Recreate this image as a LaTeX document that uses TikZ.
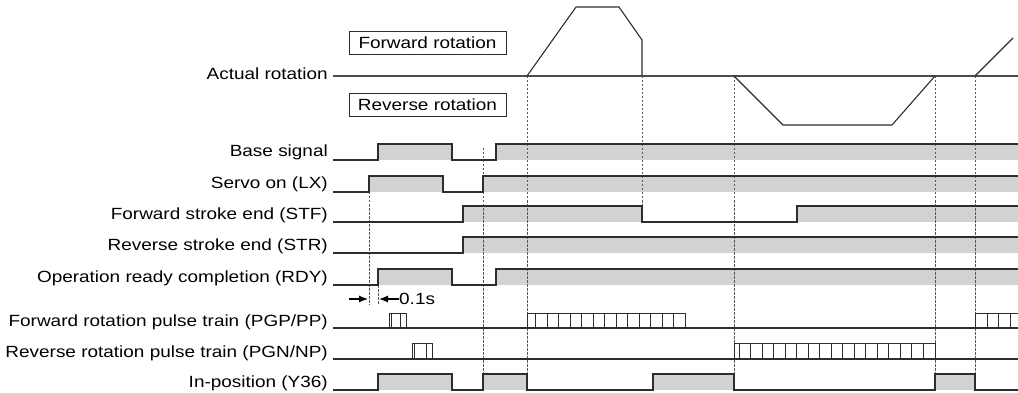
\documentclass[tikz,border=0pt]{standalone}
\usepackage{fontspec}
\setmainfont{Liberation Sans}[FakeStretch=1.17]
\usetikzlibrary{arrows.meta, positioning}
\definecolor{sigray}{RGB}{209,210,212}
\definecolor{inkdark}{RGB}{45,45,45}

\begin{document}
\begin{tikzpicture}[x=1pt, y=-1pt,
  lbl/.style={anchor=base east, inner sep=0pt, font=\fontsize{16.2}{19}\selectfont},
  rotbox/.style={draw=inkdark, line width=0.7pt, minimum width=157pt, minimum height=23pt, inner sep=0pt, font=\fontsize{16.2}{19}\selectfont},
  sig/.style={draw=inkdark, line width=1.1pt},
  hifill/.style={fill=sigray},
  curve/.style={draw=inkdark, line width=1.1pt},
  pulse/.style={draw=inkdark, line width=0.9pt},
  guide/.style={draw=black!65, line width=0.8pt, dash pattern=on 2.5pt off 1.5pt}
]
  \useasboundingbox (0,0) rectangle (1018,393);

  % signal names
  \node[lbl] (lact) at (328,80) {Actual rotation};
  \node[lbl] (lbase) at (328,157) {Base signal};
  \node[lbl] (lservo) at (328,189) {Servo on (LX)};
  \node[lbl] (lstf) at (328,219) {Forward stroke end (STF)};
  \node[lbl] (lstr) at (328,250) {Reverse stroke end (STR)};
  \node[lbl] (lrdy) at (328,282) {Operation ready completion (RDY)};
  \node[lbl] (lpgp) at (328,326) {Forward rotation pulse train (PGP/PP)};
  \node[lbl] (lpgn) at (328,357) {Reverse rotation pulse train (PGN/NP)};
  \node[lbl] (linp) at (328,387.5) {In-position (Y36)};

  \node[rotbox] (fwd) at (427.5,42.5) {Forward rotation};
  \node[rotbox] (rev) at (427.5,105) {Reverse rotation};

  % gray ON areas
  \fill[hifill] (378,144) rectangle (452,160);
  \fill[hifill] (496,144) rectangle (1018,160);
  \fill[hifill] (369,176) rectangle (443,192);
  \fill[hifill] (483,176) rectangle (1018,192);
  \fill[hifill] (463,206) rectangle (642,222);
  \fill[hifill] (797,206) rectangle (1018,222);
  \fill[hifill] (463,237) rectangle (1018,253);
  \fill[hifill] (378,269) rectangle (452,285);
  \fill[hifill] (496,269) rectangle (1018,285);
  \fill[hifill] (378,374) rectangle (452,390);
  \fill[hifill] (483,374) rectangle (527,390);
  \fill[hifill] (653,374) rectangle (734,390);
  \fill[hifill] (935,374) rectangle (975,390);

  % timing guides
  \draw[guide] (369,192) -- (369,305);
  \draw[guide] (378,285) -- (378,305);
  \draw[guide] (483,148) -- (483,374);
  \draw[guide] (642,76) -- (642,206);
  \foreach \x in {527,734,935,975}
    \draw[guide] (\x,76) -- (\x,390);

  % actual rotation
  \draw[sig, draw=black!70, line width=1.3pt] (333,76) -- (1018,76);
  \draw[curve] (527,76) -- (576,7) -- (619,7) -- (642,40) -- (642,76);
  \draw[curve] (734,76) -- (783,125) -- (892,125) -- (935,76);
  \draw[curve] (975,76) -- (1013,38);

  % signals
  \draw[sig] (333,160) -- (378,160) -- (378,144) -- (452,144) -- (452,160)
    -- (496,160) -- (496,144) -- (1018,144);
  \draw[sig] (333,192) -- (369,192) -- (369,176) -- (443,176) -- (443,192)
    -- (483,192) -- (483,176) -- (1018,176);
  \draw[sig] (333,222) -- (463,222) -- (463,206) -- (642,206) -- (642,222)
    -- (797,222) -- (797,206) -- (1018,206);
  \draw[sig] (333,253) -- (463,253) -- (463,237) -- (1018,237);
  \draw[sig] (333,285) -- (378,285) -- (378,269) -- (452,269) -- (452,285)
    -- (496,285) -- (496,269) -- (1018,269);
  \draw[sig] (333,390) -- (378,390) -- (378,374) -- (452,374) -- (452,390)
    -- (483,390) -- (483,374) -- (527,374) -- (527,390) -- (653,390)
    -- (653,374) -- (734,374) -- (734,390) -- (935,390) -- (935,374)
    -- (975,374) -- (975,390) -- (1018,390);

  % pulse trains
  \draw[sig] (333,328) -- (1018,328);
  \draw[sig] (333,359) -- (1018,359);
  \draw[pulse] (389,328) -- (389,313) -- (406,313) -- (406,328);
  \foreach \x in {391.5,400}
    \draw[pulse] (\x,313) -- ++(0,15);
  \draw[pulse] (412,359) -- (412,343) -- (432,343) -- (432,359);
  \foreach \x in {414.5,426}
    \draw[pulse] (\x,343) -- ++(0,16);
  \draw[pulse] (527,328) -- (527,313) -- (685,313) -- (685,328);
  \foreach \k in {0,...,12}
    \draw[pulse] ({535.7+11.5*\k},313) -- ++(0,15);
  \draw[pulse] (734,359) -- (734,343) -- (935,343) -- (935,359);
  \foreach \k in {0,...,16}
    \draw[pulse] ({739.3+11.5*\k},343) -- ++(0,16);
  \draw[pulse] (975,328) -- (975,313) -- (1018,313);
  \foreach \x in {987,998.5,1010}
    \draw[pulse] (\x,313) -- ++(0,15);

  % 0.1s delay
  \node[inner sep=0pt, anchor=west, font=\fontsize{16.2}{19}\selectfont] (tdelay) at (399,299) {0.1s};
  \coordinate (dl0) at (349,299);
  \coordinate (dl1) at (368,299);
  \coordinate (dr1) at (379,299);
  \draw[line width=1.2pt, -{Latex[length=9pt, width=7pt]}] (dl0) -- (dl1);
  \draw[line width=1.2pt, -{Latex[length=9pt, width=7pt]}] (tdelay.west) -- (dr1);
\end{tikzpicture}
\end{document}
